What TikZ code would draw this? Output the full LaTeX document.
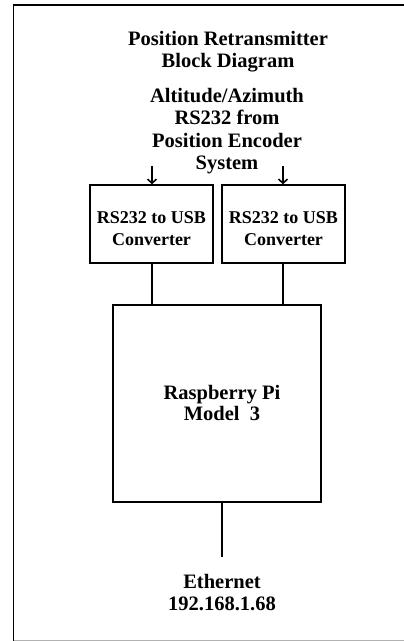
\documentclass[tikz,border=0pt]{standalone}
\usepackage{fontspec}
\setmainfont{Liberation Serif}
\usetikzlibrary{arrows.meta}
\begin{document}
\begin{tikzpicture}[x=1pt,y=-1pt,
  lbl/.style={font=\bfseries\fontsize{20.5}{22.5}\selectfont, align=center, inner sep=0pt},
  boxlbl/.style={font=\bfseries\fontsize{18}{22}\selectfont, align=center, inner sep=0pt},
  blk/.style={draw, line width=1.6pt},
  wire/.style={line width=1.6pt},
  inarrow/.style={line width=1.6pt, -{Straight Barb[length=4pt,width=9pt]}}]
\useasboundingbox (0,0) rectangle (404,641);
% frame
\draw[line width=1.6pt] (13.5,641) -- (13.5,5) -- (404,5);
\draw[gray!60, line width=0.8pt] (13.5,640) -- (404,640);
% title
\node[lbl] (title) at (228,51.5) {Position Retransmitter\\Block Diagram};
\node[lbl] (src) at (227,131) {Altitude/Azimuth\\RS232 from\\Position Encoder\\System};
% converters
\node[blk, minimum width=123pt, minimum height=78pt, inner sep=0pt] (c1) at (151.5,224) {};
\node[boxlbl] at ([yshift=-5pt]c1.center) {RS232 to USB\\Converter};
\node[blk, minimum width=123pt, minimum height=78pt, inner sep=0pt] (c2) at (283.5,224) {};
\node[boxlbl] at ([yshift=-5pt]c2.center) {RS232 to USB\\Converter};
% raspberry pi
\node[blk, minimum width=208pt, minimum height=197pt, inner sep=0pt] (rpi) at (217,403.5) {};
\node[lbl, font=\bfseries\fontsize{20.5}{21}\selectfont] (rpitext) at (222,402.5) {Raspberry Pi\\Model~~3~};
% arrows in
\coordinate (a1) at (152,166);
\coordinate (a2) at (283,166);
\draw[inarrow] (a1) -- (a1 |- c1.north);
\draw[inarrow] (a2) -- (a2 |- c2.north);
% wires
\draw[wire] (152,263) -- (152,305);
\draw[wire] (283,263) -- (283,305);
\draw[wire] (222,502) -- (222,557);
% ethernet
\node[lbl] (eth) at (222,592.5) {Ethernet\\192.168.1.68};
\end{tikzpicture}
\end{document}
